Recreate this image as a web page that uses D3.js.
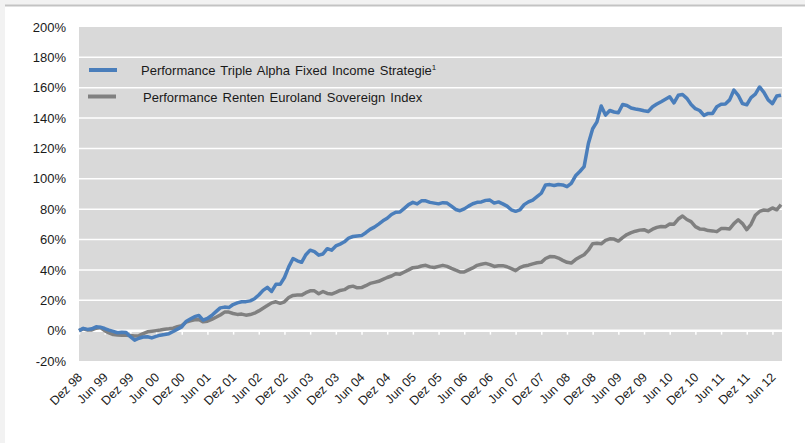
<!DOCTYPE html>
<html>
<head>
<meta charset="utf-8">
<script src="https://cdn.jsdelivr.net/npm/d3@7/dist/d3.min.js"></script>
<style>
  html, body { margin: 0; padding: 0; background: #f2f2f2; }
  svg { display: block; font-family: "Liberation Sans", Arial, sans-serif; }
</style>
</head>
<body>
<svg id="chart" width="805" height="443"></svg>
<script>
// x axis labels, one every six months (data is monthly, Dez 98 .. Aug 12)
const tickLabels = ['Dez 98', 'Jun 99', 'Dez 99', 'Jun 00', 'Dez 00', 'Jun 01', 'Dez 01', 'Jun 02',
  'Dez 02', 'Jun 03', 'Dez 03', 'Jun 04', 'Dez 04', 'Jun 05', 'Dez 05', 'Jun 06', 'Dez 06',
  'Jun 07', 'Dez 07', 'Jun 08', 'Dez 08', 'Jun 09', 'Dez 09', 'Jun 10', 'Dez 10', 'Jun 11',
  'Dez 11', 'Jun 12'];

const yTicks = [-20, 0, 20, 40, 60, 80, 100, 120, 140, 160, 180, 200];

const seriesNames = ['Performance Triple Alpha Fixed Income Strategie', 'Performance Renten Euroland Sovereign Index'];

// monthly performance in %
const tripleAlpha = [
  0, 1.5, 0.8, 1.2, 2.5, 2.3, 1.4, 0.3, -0.5, -1.4, -1.0, -1.2,
  -4, -6.3, -5.0, -4.2, -4.0, -4.8, -3.8, -3.0, -2.6, -2.0, -0.6, 1.0,
  2.5, 6, 7.6, 9.2, 10, 6.9, 8, 10, 12.5, 15, 15.5, 15.2,
  17.2, 18.3, 19, 19.1, 19.6, 21.0, 23.5, 26.5, 28.5, 25.8, 30.5, 30.5,
  35, 42, 47.5, 46, 45, 50, 53, 52, 49.7, 50.5, 54, 53,
  55.8, 57, 58.5, 61, 62, 62.4, 62.6, 64.5, 66.7, 68.2, 70.2, 72.3,
  74, 76.5, 78, 78.2, 80.5, 83, 84.5, 83.5, 85.5, 85.5, 84.5, 84,
  83.5, 84.3, 84, 82, 79.8, 79, 80.2, 82, 83.6, 84.5, 84.8, 85.8,
  86, 84, 84.8, 83.5, 82, 79.6, 78.6, 79.5, 83, 84.8, 86, 88.2,
  90.5, 96, 96.2, 95.6, 96.3, 96, 94.8, 97, 102, 104.8, 108, 123.3,
  133, 137.5, 148, 142, 145, 144, 143.5, 149, 148.3, 146.6, 146, 145.5,
  144.8, 144.4, 147.5, 149.3, 150.8, 152.4, 154, 150, 155, 155.5, 153, 149,
  146.2, 145, 141.8, 143.1, 143, 147.5, 149.1, 149.3, 152, 158.5, 155, 149.5,
  148.8, 153.5, 155.8, 160.5, 157, 152, 149.5, 154.5, 155.1
];

const rentenIndex = [
  0, 1.2, 0.4, 0.5, 1.6, 2.0, 0, -1.5, -2.6, -2.9, -3, -3,
  -3.2, -3.5, -3.3, -2.0, -0.8, -0.4, 0, 0.4, 0.9, 1.2, 1.6, 2.6,
  3.3, 5.6, 6.5, 7.2, 7.3, 5.8, 6.2, 7.4, 8.8, 10.3, 12.2, 12.2,
  11.3, 10.7, 10.9, 10.2, 10.6, 11.5, 13, 14.8, 16.5, 18.3, 19, 18,
  19, 21.8, 23.2, 23.4, 23.4, 25, 26.2, 26.2, 24.3, 25.8, 24.5, 24.1,
  25.2, 26.5, 27, 28.7, 29.3, 28.2, 28.4, 29.6, 31.1, 31.8, 32.5, 33.8,
  35, 36, 37.5, 37.2, 38.6, 40, 41.5, 41.7, 42.6, 43, 42, 41.6,
  42.3, 43, 42.3, 41, 39.8, 38.7, 38.7, 40, 41.3, 43, 43.7, 44.3,
  43.5, 42.3, 42.8, 42.8, 42.1, 40.8, 39.5, 41.5, 42.6, 43.1, 44, 44.7,
  45, 47.5, 48.8, 48.7, 47.8, 46.3, 45, 44.5, 46.8, 48.5, 50, 53,
  57.3, 57.5, 57.2, 59.5, 60.5, 60.3, 59, 61.3, 63.3, 64.5, 65.5, 66.2,
  66.5, 65.2, 66.8, 68, 68.6, 68.5, 70.2, 70.1, 73.5, 75.5, 73.2, 71.8,
  68.5, 67, 66.8, 65.9, 65.7, 65.2, 67.2, 67.3, 67, 70.5, 73, 70.5,
  66.5, 70, 76, 78.5, 79.5, 79.2, 80.8, 79.6, 83
];

const colors = ['#4a7ebb', '#808080'];

const svg = d3.select('#chart');
const W = 805, H = 443;
const plot = { left: 79, right: 782, top: 27, bottom: 361 };

// page frame: light strip on the left, grey rule at top, white card
svg.append('rect').attr('width', W).attr('height', H).attr('fill', '#f2f2f2');
svg.append('rect').attr('x', 5).attr('y', 6).attr('width', W - 5).attr('height', H - 6).attr('fill', '#ffffff');
svg.append('line').attr('x1', 5).attr('x2', W).attr('y1', 5.5).attr('y2', 5.5)
  .attr('stroke', '#c3c3c3').attr('stroke-width', 2);

const x = d3.scaleLinear().domain([0, tripleAlpha.length - 1]).range([plot.left, plot.right - 1]);
const y = d3.scaleLinear().domain([-20, 200]).range([plot.bottom, plot.top]);

svg.append('rect')
  .attr('x', plot.left).attr('y', plot.top)
  .attr('width', plot.right - plot.left).attr('height', plot.bottom - plot.top)
  .attr('fill', '#d9d9d9');

// horizontal gridlines
svg.append('g')
  .selectAll('line')
  .data(yTicks.filter(v => v > -20 && v < 200))
  .join('line')
  .attr('x1', plot.left).attr('x2', plot.right)
  .attr('y1', d => y(d)).attr('y2', d => y(d))
  .attr('stroke', '#ffffff')
  .attr('stroke-width', d => d === 0 ? 2.5 : 1.5);

// y axis labels
const yAxis = d3.axisLeft(y).tickValues(yTicks).tickFormat(d => d + '%').tickSize(0).tickPadding(13);
svg.append('g')
  .attr('transform', `translate(${plot.left},0)`)
  .call(yAxis)
  .call(g => g.select('.domain').remove())
  .call(g => g.selectAll('text').attr('font-size', 13).attr('fill', '#1a1a1a').attr('font-family', null));

// x axis sits on the 0% line, white ticks pointing down
const tickIdx = tickLabels.map((_, i) => i * 6);
const xAxis = d3.axisBottom(x).tickValues(tickIdx).tickFormat('').tickSize(3);
svg.append('g')
  .attr('transform', `translate(0,${y(0) + 1})`)
  .call(xAxis)
  .call(g => g.select('.domain').remove())
  .call(g => g.selectAll('line').attr('stroke', '#ffffff').attr('stroke-width', 1.5));

svg.append('g')
  .selectAll('text')
  .data(tickLabels)
  .join('text')
  .attr('transform', (d, i) => `translate(${x(tickIdx[i]) + 4},${plot.bottom + 17}) rotate(-45)`)
  .attr('text-anchor', 'end')
  .attr('font-size', 12.5)
  .attr('fill', '#1a1a1a')
  .text(d => d);

// the two performance lines
const line = d3.line()
  .x((d, i) => x(i))
  .y(d => y(d));

[rentenIndex, tripleAlpha].forEach((s, k) => {
  svg.append('path')
    .datum(s)
    .attr('fill', 'none')
    .attr('stroke', colors[1 - k])
    .attr('stroke-width', 3.5)
    .attr('stroke-linejoin', 'round')
    .attr('d', line);
});

// legend
const legend = svg.append('g');
const legendRows = [
  { y: 70, sx: 89, tx: 141, ty: 75 },
  { y: 96.5, sx: 88, tx: 143, ty: 102 }
];
legendRows.forEach((r, k) => {
  legend.append('line')
    .attr('x1', r.sx).attr('x2', r.sx + 28)
    .attr('y1', r.y).attr('y2', r.y)
    .attr('stroke', colors[k]).attr('stroke-width', 4);
  const t = legend.append('text')
    .attr('x', r.tx).attr('y', r.ty)
    .attr('font-size', 13)
    .attr('fill', '#1a1a1a')
    .attr('word-spacing', 1.5)
    .text(seriesNames[k]);
  if (k === 0) {
    t.append('tspan').attr('dy', -5).attr('font-size', 8).text('1');
  }
});
</script>
</body>
</html>
